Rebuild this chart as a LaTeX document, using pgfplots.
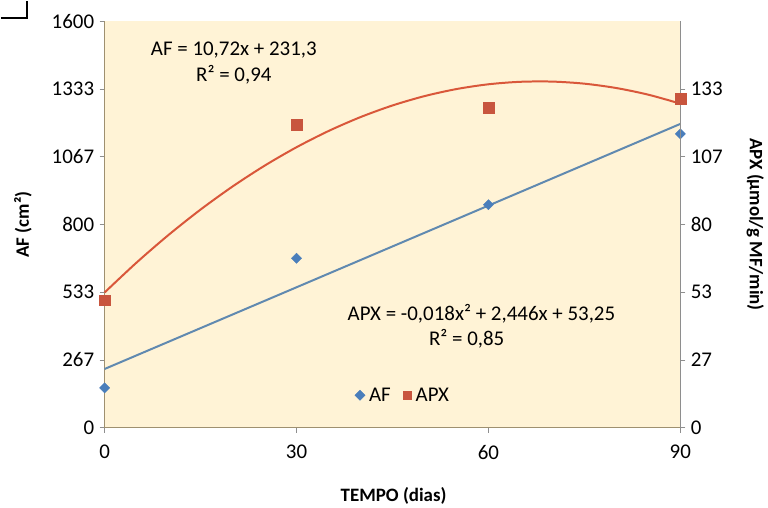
\documentclass[border=0pt]{standalone}
\usepackage{fontspec}
\setmainfont{Carlito}
\usepackage{pgfplots}
\pgfplotsset{compat=1.18}

\definecolor{bgyel}{HTML}{FFF3D6}
\definecolor{afblue}{HTML}{4A7EBB}
\definecolor{aflinec}{HTML}{6089B0}
\definecolor{apxred}{HTML}{C8553E}
\definecolor{apxline}{HTML}{D9573A}
\definecolor{axcol}{HTML}{8E8E8E}
\definecolor{laxcol}{HTML}{9E9070}

\newcommand{\tfont}{\fontsize{21}{24}\selectfont}
\newcommand{\lfont}{\fontsize{19}{22}\selectfont\bfseries}

\begin{document}
\begin{tikzpicture}
\pgfplotsset{
  base/.style={
    scale only axis,
    width=578pt, height=408pt,
    xmin=0, xmax=90,
    tick align=outside,
    major tick length=5pt,
    tick style={axcol, line width=0.8pt},
    tick label style={font=\tfont, text=black},
    clip=false,
  },
  afmark/.style={only marks, mark=square*, mark size=3.6pt,
    mark options={rotate=45, fill=afblue, draw=afblue}},
  apxmark/.style={only marks, mark=square*, mark size=5.5pt,
    mark options={fill=apxred, draw=apxred}},
}

% left axis: AF
\begin{axis}[
    base,
    axis x line*=bottom,
    axis y line*=left,
    axis line style={laxcol, line width=1pt},
    axis background/.style={fill=bgyel},
    ymin=0, ymax=1600,
    xtick={0,30,60,90},
    xticklabels={0,30,60,90},
    ytick={0,266.67,533.33,800,1066.67,1333.33,1600},
    yticklabels={0,267,533,800,1067,1333,1600},
    xticklabel style={yshift=-9pt},
    yticklabel style={xshift=-2pt},
    xlabel={TEMPO (dias)},
    xlabel style={font=\lfont, at={(axis description cs:0.502,-0.167)}, anchor=center},
    ylabel={AF (cm²)},
    ylabel style={font=\lfont, at={(axis description cs:-0.142,0.5)}, anchor=center, rotate=0},
]
% AF linear trend
\addplot[aflinec, line width=2pt] coordinates {(0,231.3) (90,1196.1)};
% AF data
\addplot[afmark] coordinates {(0,157) (30,667) (60,878) (90,1157)};

\node[font=\tfont] at (axis cs:20.2,1486) {AF = 10,72x + 231,3};
\node[font=\tfont] at (axis cs:20.2,1388) {R² = 0,94};
\node[font=\tfont] at (axis cs:58.9,447) {APX = -0,018x² + 2,446x + 53,25};
\node[font=\tfont] at (axis cs:56.6,349) {R² = 0,85};

% corner fragment
\draw[black, line width=2pt] (rel axis cs:-0.18,1.0074) -| (rel axis cs:-0.135,1.05);
\end{axis}

% right axis: APX
\begin{axis}[
    base,
    axis x line=none,
    axis y line*=right,
    axis line style={axcol, line width=1pt},
    ymin=0, ymax=160,
    ytick={0,26.667,53.333,80,106.667,133.333},
    yticklabels={0,27,53,80,107,133},
    yticklabel style={xshift=2pt},
    ylabel={APX (µmol/g MF/min)},
    ylabel style={font=\lfont, at={(axis description cs:1.13,0.5)}, anchor=center, rotate=180},
    legend style={draw=none, fill=none, at={(0.52,0.08)}, anchor=center,
      legend columns=2, font=\tfont,
      nodes={inner xsep=4pt},
      /tikz/every even column/.append style={column sep=8pt}},
    legend cell align=left,
]
\addlegendimage{afmark}
\addlegendentry{AF}
\addlegendimage{apxmark, mark size=4.5pt}
\addlegendentry{APX}

% APX polynomial trend
\addplot[apxline, line width=2pt, smooth, forget plot] coordinates {
  (0,53.25) (5,65.03) (10,75.91) (15,85.89) (20,94.97) (25,103.15)
  (30,110.43) (35,116.81) (40,122.29) (45,126.87) (50,130.55) (55,133.33)
  (60,135.21) (65,136.19) (70,136.27) (75,135.45) (80,133.73) (85,131.11)
  (90,127.59)
};
% APX data
\addplot[apxmark, forget plot] coordinates {(0,50.2) (30,119.2) (60,125.9) (90,129.4)};
\end{axis}

\useasboundingbox (-102pt,-80pt) rectangle (666pt,426pt);
\end{tikzpicture}
\end{document}
